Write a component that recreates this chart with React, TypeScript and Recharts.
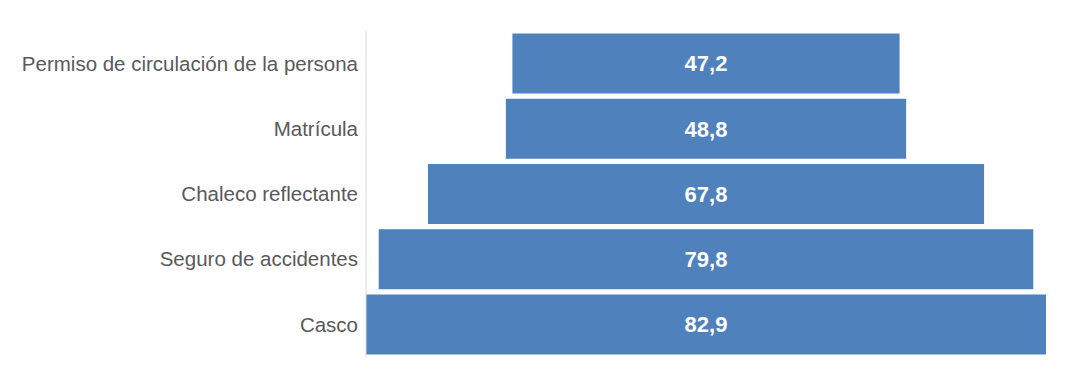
import { BarChart, Bar, XAxis, YAxis, LabelList } from 'recharts';

const categories = [
  'Permiso de circulación de la persona',
  'Matrícula',
  'Chaleco reflectante',
  'Seguro de accidentes',
  'Casco',
];
const values = [47.2, 48.8, 67.8, 79.8, 82.9];

const maxValue = Math.max(...values);

const data = categories.map((name, i) => ({ name, value: values[i] }));

// centred bars: each bar spans symmetric around the middle of the axis
const span = (d: { value: number }) => [(maxValue - d.value) / 2, (maxValue + d.value) / 2];

export default function App() {
  return (
    <div style={{ position: 'absolute', left: 0, top: 0, width: 1066, height: 376, background: '#fff' }}>
      <BarChart
        width={1066}
        height={376}
        data={data}
        layout="vertical"
        margin={{ top: 31, right: 20, bottom: 19, left: 0 }}
        barCategoryGap="4%"
      >
        <XAxis type="number" domain={[0, maxValue]} hide />
        <YAxis
          type="category"
          dataKey="name"
          width={366}
          axisLine={{ stroke: '#d9d9d9' }}
          tickLine={false}
          tick={{ fill: '#595959', fontSize: 20.5, fontFamily: 'Liberation Sans, Arial, sans-serif' }}
        />
        <Bar dataKey={span} fill="#4F81BD" isAnimationActive={false}>
          <LabelList
            dataKey="value"
            position="center"
            fill="#ffffff"
            fontSize={22}
            fontWeight="bold"
            fontFamily="Liberation Sans, Arial, sans-serif"
            formatter={(v: any) => String(v).replace('.', ',')}
          />
        </Bar>
      </BarChart>
    </div>
  );
}
